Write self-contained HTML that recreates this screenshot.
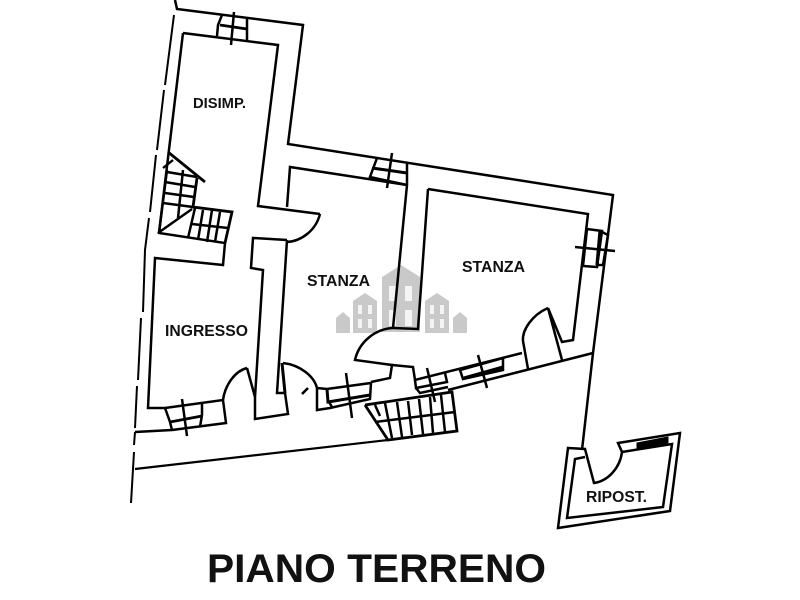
<!DOCTYPE html>
<html><head><meta charset="utf-8"><style>
html,body{margin:0;padding:0;background:#fff}
svg{display:block}
text{font-family:"Liberation Sans",sans-serif;font-weight:bold;fill:#111}
</style></head><body>
<svg width="800" height="600" viewBox="0 0 800 600" xmlns="http://www.w3.org/2000/svg">
<!-- watermark -->
<g fill="#c9c9c9">
<path d="M382 277 L401 265 L420 277 V332 H382Z"/>
<path d="M353 301 L365 293 L377 301 V333 H353Z"/>
<path d="M425 301 L437 293 L449 301 V333 H425Z"/>
<path d="M336 318 L343 312 L350 318 V333 H336Z"/>
<path d="M453 318 L460 312 L467 318 V333 H453Z"/>
</g>
<g fill="#f4f4f4">
<rect x="389" y="286" width="7" height="15"/><rect x="405" y="286" width="7" height="15"/>
<rect x="389" y="310" width="7" height="16"/><rect x="405" y="310" width="7" height="16"/>
<rect x="358" y="305" width="4" height="9"/><rect x="368" y="305" width="4" height="9"/>
<rect x="358" y="319" width="4" height="9"/><rect x="368" y="319" width="4" height="9"/>
<rect x="430" y="305" width="4" height="9"/><rect x="440" y="305" width="4" height="9"/>
<rect x="430" y="319" width="4" height="9"/><rect x="440" y="319" width="4" height="9"/>
</g>
<g fill="none" stroke="#000" stroke-width="2.5" stroke-linejoin="miter">
<!-- outer top wall -->
<path d="M175 0 L177 9 L303 25 L288 144 L613 195 L593 353 L582 450"/>
<!-- dash dot left boundary -->
<path d="M174 15 L165 85 M164 90 L157 150 M156 155 L150 212 M149 218 L145 250 L143 312 M141 318 L138 380 M137 386 L135 428 M135 432 L134 445 M134 452 L131 503" stroke-width="2"/>
<!-- disimp room -->
<path d="M183 33 L278 45 L258 206 L320 214"/>
<path d="M183 33 L159 233 L225 243 L223 265 L155 258 L148 408 L165 408 L223 400 L226 423 L172 430 L135 432"/>
<path d="M320 214 C316 230 302 241 287 242"/>
<path d="M287 240 L253 238 L251 268 L263 270 L255 397 L247 368"/>
<path d="M223 400 C225 385 235 371 247 368"/>
<path d="M255 397 L255 419 L288 414 L285 393 L277 393 L287 240"/>
<path d="M287 207 L290 167 L407 185"/>
<path d="M282 363 L285 393" stroke-width="3"/>
<!-- stanza middle -->
<path d="M407 163 L407 185 L393 328"/>
<path d="M393 328 C375 329 359 342 355 360 L392 365 L390 378 L371 382"/>
<path d="M283 363 C300 365 314 376 317 388 L317 410 L330 408 L370 399 L371 383 L327 389 L317 388"/>
<path d="M302 394 L308 388" stroke-width="2.6"/>
<path d="M327 389 L328 402 L370 395" stroke-width="3"/>
<path d="M332 407 L329 402"/>
<path d="M346 373 L352 418 M182 399 L187 436"/>
<!-- stanza right -->
<path d="M428 189 L588 214 L573 340 L562 342 L548 308 L562 360"/>
<path d="M428 189 L418 329 L393 328"/>
<path d="M548 308 C532 315 522 330 523 341 L528 369"/>
<path d="M392 365 L413 367 L415 380 L522 353"/>
<path d="M448 390 L593 353"/>
<path d="M415 380 L416 388 L447 382 L445 373 M416 388 L420 393 L448 387"/>
<path d="M427 368 L435 402"/>
<path d="M460 370 L503 358 L503 370 L463 379 Z"/>
<path d="M464 378 L503 367" stroke-width="3"/>
<path d="M478 355 L487 388"/>
<!-- stairs south -->
<path d="M365 405 L388 440 L457 431 L452 392 L365 405" stroke-width="2.8"/>
<path d="M375 422 L455 412"/>
<path d="M375 405 L380 416 M385 403 L392 438 M397 402 L402 437 M408 401 L412 435 M419 399 L423 434 M430 397 L433 433 M441 395 L445 432"/>
<path d="M135 469 L388 440" stroke-width="2.2"/>
<!-- window top -->
<path d="M222 15 L218 25 L217 36 M247 19 L247 41"/>
<path d="M220 25 L247 29" stroke-width="2.8"/>
<path d="M234 12 L231 45"/>
<!-- window middle top -->
<path d="M377 158 L370 177 L407 185"/>
<path d="M372 168 L407 173" stroke-width="3"/>
<path d="M392 153 L387 188"/>
<!-- window right -->
<path d="M587 229 L602 231 L597 267 L583 266 Z"/>
<path d="M602 232 L608 235 L603 265 L597 265"/>
<path d="M600 231 L597 265" stroke-width="3.2"/>
<path d="M575 247 L615 251"/>
<!-- ingresso window -->
<path d="M165 408 L170 422 L172 430 M202 403 L202 415 L200 427"/>
<path d="M170 422 L202 416" stroke-width="2.8"/>
<!-- stairs north -->
<path d="M168 152 L205 182 M197 178 L193 207 L232 212 L225 243" stroke-width="2.8"/>
<path d="M158 233 L192 209"/>
<path d="M167 170 L159 233 M183 170 L178 218"/>
<path d="M167 172 L197 177 M165 182 L195 187 M165 193 L194 197 M163 203 L193 207"/>
<path d="M163 168 L173 160" stroke-width="2.4"/>
<path d="M195 208 L188 238 M203 210 L198 240 M212 210 L207 242 M220 212 L215 242 M192 224 L228 228"/>
<!-- ripost -->
<path d="M568 448 L585 449 L594 483 C608 481 620 468 622 452 L618 443 L680 433 L670 511 L558 528 Z"/>
<path d="M585 457 L575 459 L567 518 L663 507 L672 444 L622 452"/>
<path d="M637 443 L668 437 L668 443 L637 449 Z" fill="#000" stroke-width="1"/>
</g>
<!-- labels -->
<text x="193" y="108" font-size="14.5" textLength="53" lengthAdjust="spacingAndGlyphs">DISIMP.</text>
<text x="165" y="336" font-size="16" textLength="83" lengthAdjust="spacingAndGlyphs">INGRESSO</text>
<text x="307" y="286" font-size="16" textLength="63" lengthAdjust="spacingAndGlyphs">STANZA</text>
<text x="462" y="272" font-size="16" textLength="63" lengthAdjust="spacingAndGlyphs">STANZA</text>
<text x="586" y="502" font-size="16" textLength="61" lengthAdjust="spacingAndGlyphs">RIPOST.</text>
<text x="207" y="582" font-size="40" textLength="339" lengthAdjust="spacingAndGlyphs">PIANO TERRENO</text>
</svg>
</body></html>
